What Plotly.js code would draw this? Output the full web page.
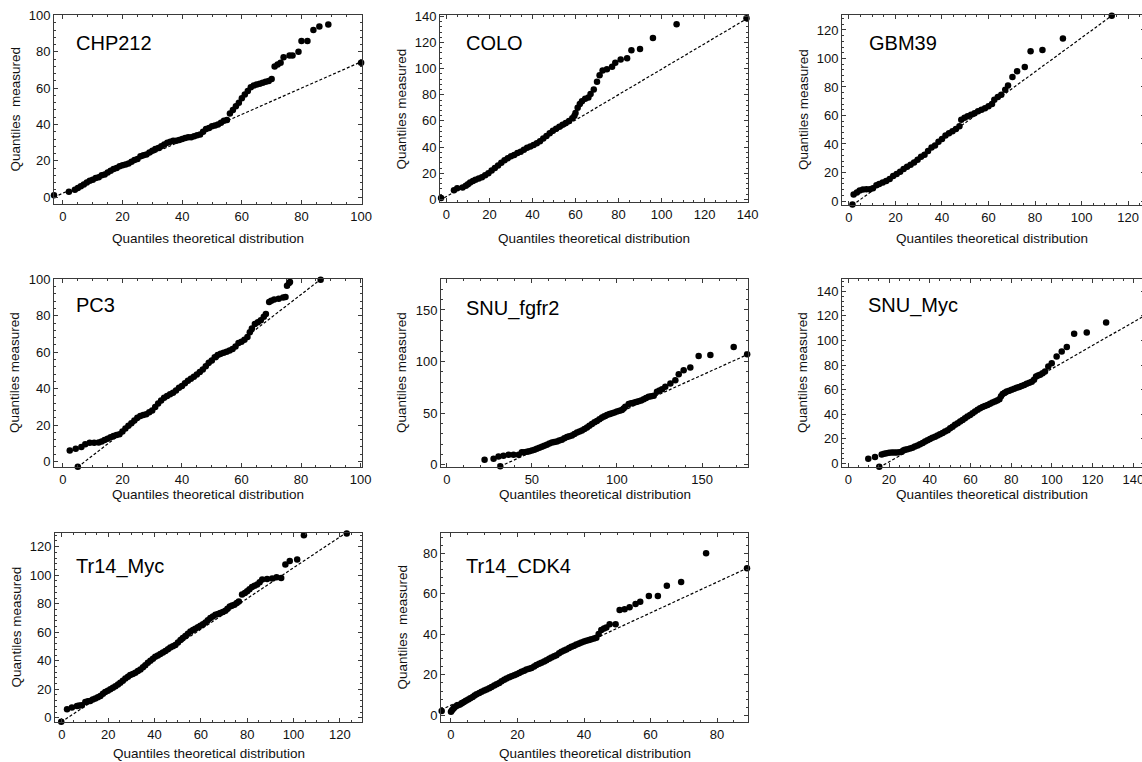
<!DOCTYPE html>
<html><head><meta charset="utf-8">
<script src="https://cdn.plot.ly/plotly-3.0.1.min.js"></script>
<style>html,body{margin:0;padding:0;overflow:hidden;background:#fff}#chart{width:1150px;height:762px}</style>
</head><body><div id="chart"></div>
<script>
// ---------------- DATA ----------------
const PANEL_NAMES = ['CHP212','COLO','GBM39','PC3','SNU_fgfr2','SNU_Myc','Tr14_Myc','Tr14_CDK4'];
const X_TITLE = 'Quantiles theoretical distribution';
const Y_TITLE = 'Quantiles measured';
const Y_TITLE_WIDE = 'Quantiles\u00a0 measured';

const CHP212_X = [-3,2,4,5,6,7,8,9,10,11, 12,13,14,15,16,17,18,19,20,21, 22,23,24,25,26,27,28,29,30,31, 32,33,34,35,36,37,38,39,40,41,
  42,43,44,45,46,47,48,49,50,51, 52,53,54,55,56,57,58,59,60,61, 62,63,64,65,66,67,68,69,70,71, 72,73,74,76,77,79,80,82,84,86, 89,100];
const CHP212_Y = [1,3,4,5,6,7,8,9,9.5,10.5, 11,12,12.5,13.5,14.5,15.5,16,17,17.5,18, 18.5,19.5,20.5,21,22.5,23,23.5,24.5,25.5,26.5, 27,28,29,30,30.5,31,31,31.5,32,32.5,
  33,33,33.5,34,34.5,36,37.5,38,39,39.5, 40,41,42,42.5,46,48,50,52,54.5,56.5, 58.5,60.5,61.5,62,62.5,63,63.5,64,65,72, 73,74,77,78,78,80,86,86,92,94, 95,74];
const CHP212_LINE_X = [-3,100];
const CHP212_LINE_Y = [0,74.5];

const COLO_X = [-2.5,3.5,5,7.5,9,10,11,12.3,13.5,15, 16.5,18,19.5,21,22.5,24,25.5,27,28.5,30, 31.5,33,34.5,36,37.5,39,40.5,42,43.5,45,
  46.5,48,49.5,51,52.5,54,55.5,57,58.5,59.5, 60,61,62,63,64.5,66,67,68.5,70,71.2, 72.6,74.6,77,78.5,81,84,86,90,96,107, 139.5];
const COLO_Y = [1,7,8.5,9,10.5,11.5,13,14,15,16, 17,18.5,20,22,24,26,28,30,31.5,33, 34,35.5,36.5,38,39.5,40.5,41.5,43,44.5,46.5,
  48.5,50.5,52.5,54,55.5,57,58.5,60,62,64, 66,70,73,75,77,78,80.5,84,90,95, 98.5,99.5,101.5,104.5,107,108,114,115,123.5,134, 138.5];
const COLO_LINE_X = [-3,140];
const COLO_LINE_Y = [-0.7,138.5];

const GBM39_X = [1.5,2,3.4,4.6,6,7.5,9,10.3,11.8,13, 14.5,16,17.5,19,20.5,22,23.5,25,26.5,28, 29.5,31,32.5,34,35.5,37,38.5,40,41.5,43,
  44.5,46,47.5,48.3,49.7,51,52.5,54,55.5,57, 58.5,60,61.5,62.5,64,65.5,67.2,68.4,70.3,72.3, 75.6,78.1,83.2,92,113];
const GBM39_Y = [-2.5,4.5,6,7.3,8,8.2,8.2,9,11,12, 13,14,15.5,17.5,19,20.5,22.5,24,25.5,27, 29,31,32.5,35,37.5,39,41.5,43.5,46,47.5,
  49,50.5,52.5,57,58.5,59.5,60.5,61.5,63,64, 65,66.5,68,71,73,74.5,78,81,87,91, 94,105,106,114,130];
const GBM39_LINE_X = [1.5,113];
const GBM39_LINE_Y = [-3,130];

const PC3_X = [5,2.3,4.3,6.2,7.5,9,10.5,12,13,14, 15,16,17,18,19,20,21,22,23,24, 25,26,27,28,29,30,31,32,33,34, 35,36,37,38,39,40,41,42,43,44,
  45,46,47,48,49,50,51,52,53,54, 55,56,57,58,59,60,61,62,62.8,63.5, 64.5,65.5,66.5,67.5,68.2,69.3,70,71,72.5,74, 74.8,75.3,76,76.3,86.6];
const PC3_Y = [-2.8,6,7,8,9.5,10.3,10.3,10.5,11,11.8, 12.5,13.3,14,14.5,15,16.5,18.2,19.7,21,22.5, 24,25,25.5,26,27,28,30,31.9,33.5,35, 36,37,37.8,39,40.5,41.5,43,44.3,45.5,46.5,
  47.8,49.2,50.5,52.3,54.2,55.5,57.3,58.5,59.2,59.7, 60.3,61,61.8,63.2,65,65.8,66.8,68.4,71,73, 75.5,76.5,77.6,79.5,81,87.6,88.3,88.9,89.4,90, 90.3,96.5,98,98.5,99.8];
const PC3_LINE_X = [5,86.6];
const PC3_LINE_Y = [-3,100];

const SNUF_X = [22.2,27.5,30.4,31.4,33.3,36.3,39.2,42.2,44.1,45.5, 47.1,48.5,50,51.5,52.9,54.4,55.9,57.3,58.8,60.3, 61.8,63.2,64.7,66.1,67.6,69.1,70.6,72,73.5,75,
  76.5,78,79.4,80.9,82.4,83.8,85.3,86.8,88.2,89.7, 91.2,92.6,94.1,95.6,97.1,98.5,100,101.5,102.9,103.9, 104.9,106.9,108.3,109.8,111.2,112.7,114.2,115.7,117.1,118.6,
  120.1,121.6,123.5,125,126.5,128.4,131.4,134.3,136.3,139.2, 143.1,148,154.9,168.6,176.5];
const SNUF_Y = [4.8,5.8,8,-1.6,8.7,9.6,9.6,9.6,11.9,12, 12.5,13,13.8,14.5,15.4,16.3,17.3,18.3,19.3,20.5, 21.5,22,22.5,23.3,24.1,25.5,26.7,27.5,28.3,29.8,
  31.2,32.2,33.1,34.5,36,37.8,39.5,41,42.4,44, 45.6,47,48.2,49,49.8,50.6,51.4,52.2,53,54.5, 56.2,58.8,59.6,60.1,60.8,61.4,62.3,63.3,64.6,65.9,
  66.3,66.8,70.7,72,73.2,75.5,78.7,81.9,87.7,91.6, 94.1,105.4,106.3,114,107];
const SNUF_LINE_X = [31.4,177];
const SNUF_LINE_Y = [-1.6,107];

const SNUM_X = [9.8,13.1,15.2,16.4,17.6,18.8,20,21.3,22.5,23.7, 25,26.2,27,27.8,29,30.3,31.5,32.7,34,35.2, 36.5,37.7,38.9,40.1,41.3,42.6,43.8,45,46.3,47.5,
  48.8,50,51.2,52.4,53.7,54.9,56.1,57.3,58.5,59.8, 61,62.2,63.5,64.7,65.9,67.1,68.4,69.6,70.8,72, 73.1,74.2,75,75.8,76.8,77.8,79,80.2,81.5,82.7,
  83.9,85.1,86.4,87.6,88.9,90.1,91.2,92.2,93.2,94.2, 95.4,96.6,98.2,99.9,102.3,104.8,107.3,110.9,117.1,126.6];
const SNUM_Y = [3.8,5.2,-2.8,7.1,7.8,8.2,8.5,8.7,8.7,8.7, 9,9.5,10.5,11.1,11.5,12,12.7,13.6,14.5,15.5, 16.5,17.7,18.8,19.8,20.8,21.7,22.6,23.6,24.7,25.8,
  27,28.5,29.8,31.3,32.6,34,35.3,36.7,38,39.4, 40.8,42.1,43.5,44.8,45.8,46.7,47.5,48.4,49.4,50.3, 51.2,52.2,54.5,56.5,57.5,58.4,59,59.8,60.6,61.4,
  62.2,63,63.8,64.7,65.5,66.3,68,70.7,71.5,72, 73.3,74.7,78.8,81.5,87,91,94.6,105.4,106.5,114.7];
const SNUM_LINE_X = [15.2,150];
const SNUM_LINE_Y = [-3.3,124.4];

const TRM_X = [-0.3,2.2,4.3,6.5,7.5,8.6,10.1,11.2,12.2,13.3, 14.4,15.5,16.6,17.7,18.7,19.8,20.9,22,23.1,24.2, 25.2,26.3,27.4,28.5,29.5,30.6,31.7,32.8,33.9,35,
  36,37.1,38.2,39.3,40.3,41.4,42.5,43.6,44.7,45.8, 46.8,47.9,49,50.1,51.2,52.2,53.3,54.4,55.5,56.6, 57.6,58.7,59.8,60.9,62,63,64.1,65.2,66.3,67.4,
  68.4,69.5,70.6,71.5,72.5,73.5,74.5,75.5,76.4,77.8, 79,80,81,82.1,83.2,84.3,85.4,86.5,88.6,90.8, 92.7,94.7,96.5,98.4,101.6,104.5,123];
const TRM_Y = [-2.8,5.9,7.1,8.2,8.5,8.7,11.1,11.5,11.8,12.8, 13.4,14.3,15.3,16.8,18.1,19,20,21,22.1,23.3, 24.5,26,27.5,28.8,29.9,30.7,31.5,32.7,33.9,35.4,
  36.9,38.5,40,41.4,42.8,43.7,44.7,45.7,46.8,48, 49.2,50.1,51.1,52.8,54.6,56,57.4,59,60.5,61.5, 62.4,63.4,64.5,65.6,66.8,68.3,69.9,71,72.2,72.8,
  73.4,74.2,75.1,76.5,78.1,78.7,79.3,80.5,81.6,86.4, 87.5,88.7,90.2,91.8,92.6,93.4,95,96.9,97.4,97.6, 98.6,98.1,107.5,109.9,111,128,129.3];
const TRM_LINE_X = [-0.3,123];
const TRM_LINE_Y = [-3,130];

const TRC_X = [-2.8,0,0.3,0.7,1,1.5,2.1,2.7,3.3,3.9, 4.5,5.2,5.8,6.5,7.1,7.7,8.5,9.2,10,10.7, 11.5,12.2,13,13.7,14.5,15.2,16,16.7,17.5,18.2, 19,19.7,20.5,21.2,22,22.7,23.5,24.2,25,25.7,
  26.5,27.2,28,28.7,29.5,30.2,31,31.7,32.5,33.2, 34,34.7,35.5,36.2,37,37.7,38.5,39.2,40,40.7, 41.5,42.2,43,43.7,44.4,45.2,46,46.7,47.7,49.5,
  50.7,52.2,53.7,55.5,56.9,59.5,62.2,64.9,69.2,76.7, 89];
const TRC_Y = [2.1,1.7,2.5,3.3,3.8,4.5,5,5.4,6,6.6, 7.2,7.8,8.4,9.1,9.8,10.4,11,11.6,12.2,12.7, 13.4,14,14.7,15.3,16,16.8,17.5,18.2,18.8,19.3, 19.8,20.3,20.9,21.5,22,22.6,23,23.4,24.1,24.8,
  25.4,25.9,26.6,27.2,27.9,28.5,29.1,29.7,30.6,31.4, 32,32.5,33.2,33.8,34.4,35,35.5,36,36.4,36.8, 37.2,37.5,37.9,38.3,40.1,42.1,42.8,43.4,45,45,
  52,52.3,53.3,55,56.1,58.9,58.9,63.9,65.8,80, 72.6];
const TRC_LINE_X = [-3,89];
const TRC_LINE_Y = [2.7,72.6];

// ---------------- LAYOUT CONFIG ----------------
const W = 1150, H = 762;
const panels = [
  {name:PANEL_NAMES[0], x:CHP212_X, y:CHP212_Y, lx:CHP212_LINE_X, ly:CHP212_LINE_Y, box:[54,362,15,204], xr:[-3,100.3], yr:[-3.8,100.3], xd:20, yd:20, xm:5, ym:4, lab:[20,28], xt:34, yt:Y_TITLE_WIDE},
  {name:PANEL_NAMES[1], x:COLO_X, y:COLO_Y, lx:COLO_LINE_X, ly:COLO_LINE_Y, box:[440,748,15,202], xr:[-3,140.2], yr:[-2,141], xd:20, yd:20, xm:5, ym:4, lab:[24,28], xt:36, yt:Y_TITLE},
  {name:PANEL_NAMES[2], x:GBM39_X, y:GBM39_Y, lx:GBM39_LINE_X, ly:GBM39_LINE_Y, box:[842,1145,15,205], xr:[-3,127.3], yr:[-2.8,130.5], xd:20, yd:20, xm:5, ym:4, lab:[25,28], xt:33, yt:Y_TITLE},
  {name:PANEL_NAMES[3], x:PC3_X, y:PC3_Y, lx:PC3_LINE_X, ly:PC3_LINE_Y, box:[54,362,279,467], xr:[-3,100.5], yr:[-3,100.2], xd:20, yd:20, xm:5, ym:4, lab:[20,26], xt:27, yt:Y_TITLE},
  {name:PANEL_NAMES[4], x:SNUF_X, y:SNUF_Y, lx:SNUF_LINE_X, ly:SNUF_LINE_Y, box:[441,748,279,467], xr:[-3.4,177], yr:[-2.3,180], xd:50, yd:50, xm:10, ym:10, lab:[23,30], xt:27, yt:Y_TITLE},
  {name:PANEL_NAMES[5], x:SNUM_X, y:SNUM_Y, lx:SNUM_LINE_X, ly:SNUM_LINE_Y, box:[842,1145,279,467], xr:[-3.1,145.7], yr:[-3,150], xd:20, yd:20, xm:5, ym:4, lab:[24,26], xt:27, yt:Y_TITLE},
  {name:PANEL_NAMES[6], x:TRM_X, y:TRM_Y, lx:TRM_LINE_X, ly:TRM_LINE_Y, box:[55,362,533,722], xr:[-3,129.6], yr:[-3,129.6], xd:20, yd:20, xm:5, ym:4, lab:[19,33], xt:31, yt:Y_TITLE},
  {name:PANEL_NAMES[7], x:TRC_X, y:TRC_Y, lx:TRC_LINE_X, ly:TRC_LINE_Y, box:[441,748,533,722], xr:[-3,89.3], yr:[-3.3,90], xd:20, yd:20, xm:5, ym:4, lab:[23,33], xt:31, yt:Y_TITLE_WIDE}
];

const FONT = 'Liberation Sans, Arial, Helvetica, sans-serif';
const FRAME = '#3a3a3a';
const traces = [];
const layout = {
  width: W, height: H, margin:{l:0,r:0,t:0,b:0},
  paper_bgcolor:'#fff', plot_bgcolor:'#fff', showlegend:false,
  font:{family:FONT, color:'#000'},
  annotations: []
};

panels.forEach((p,i) => {
  const n = i+1;
  const xa = n===1 ? 'x' : 'x'+n, ya = n===1 ? 'y' : 'y'+n;
  const [l,r,t,b] = p.box;
  const axBase = {
    showline:true, mirror:'allticks', linecolor:FRAME, linewidth:1,
    ticks:'inside', ticklen:4, tickwidth:1, tickcolor:FRAME,
    showgrid:false, zeroline:false, tick0:0,
    tickfont:{family:FONT, size:13, color:'#111'},
    fixedrange:true
  };
  layout['xaxis'+(n===1?'':n)] = Object.assign({}, axBase, {
    domain:[l/W, r/W], range:p.xr, dtick:p.xd, anchor:ya,
    minor:{dtick:p.xm, tick0:0, ticks:'inside', ticklen:2, tickcolor:FRAME, showgrid:false}
  });
  layout['yaxis'+(n===1?'':n)] = Object.assign({}, axBase, {
    domain:[1-b/H, 1-t/H], range:p.yr, dtick:p.yd, anchor:xa,
    minor:{dtick:p.ym, tick0:0, ticks:'inside', ticklen:2, tickcolor:FRAME, showgrid:false}
  });
  traces.push({type:'scatter', mode:'lines', x:p.lx, y:p.ly, xaxis:xa, yaxis:ya,
    line:{color:'#000', width:1.2, dash:'3px,2px'}, hoverinfo:'skip'});
  traces.push({type:'scatter', mode:'markers', x:p.x, y:p.y, xaxis:xa, yaxis:ya, cliponaxis:false,
    marker:{color:'#000', size:6.5, line:{width:0}}});
  layout.annotations.push({xref:'paper', yref:'paper', x:(l+p.lab[0])/W, y:1-(t+p.lab[1])/H,
    xanchor:'left', yanchor:'middle', showarrow:false, text:p.name, font:{family:FONT, size:20, color:'#000'}});
  layout.annotations.push({xref:'paper', yref:'paper', x:((l+Math.min(r,1142))/2)/W, y:1-(b+p.xt)/H,
    xanchor:'center', yanchor:'middle', showarrow:false, text:X_TITLE, font:{family:FONT, size:13.5, color:'#111'}});
  layout.annotations.push({xref:'paper', yref:'paper', x:(l-39)/W, y:1-((t+b)/2)/H, textangle:-90,
    xanchor:'center', yanchor:'middle', showarrow:false, text:p.yt, font:{family:FONT, size:13.5, color:'#111'}});
});

Plotly.newPlot('chart', traces, layout, {staticPlot:true, displayModeBar:false});
</script>
</body></html>
